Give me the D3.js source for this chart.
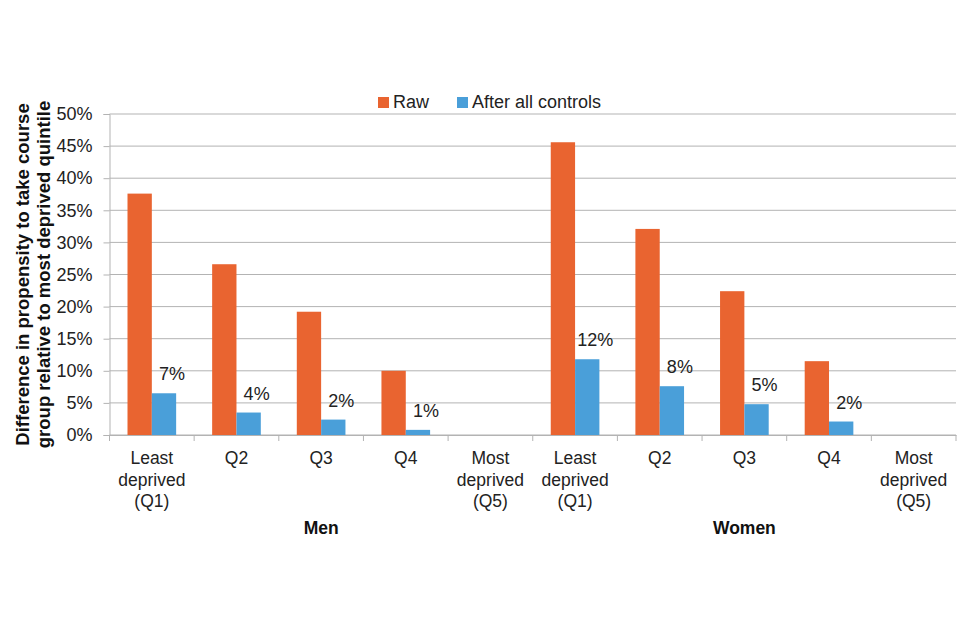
<!DOCTYPE html>
<html>
<head>
<meta charset="utf-8">
<script src="https://cdn.jsdelivr.net/npm/d3@7"></script>
<style>
  body { margin: 0; background: #fff; }
  svg { font-family: "Liberation Sans", Arial, sans-serif; }
</style>
</head>
<body>
<div id="chart"></div>
<script>
// categories and values
var groups = ["Men", "Women"];
var quintiles = [["Least", "deprived", "(Q1)"], ["Q2"], ["Q3"], ["Q4"], ["Most", "deprived", "(Q5)"]];
var seriesNames = ["Raw", "After all controls"];
var rawMen = [37.6, 26.6, 19.2, 10.0, 0];
var ctrlMen = [6.5, 3.5, 2.4, 0.8, 0];
var rawWomen = [45.6, 32.1, 22.4, 11.5, 0];
var ctrlWomen = [11.8, 7.6, 4.8, 2.1, 0];
var ctrlLabels = ["7%", "4%", "2%", "1%", "", "12%", "8%", "5%", "2%", ""];
var yTicks = [0, 5, 10, 15, 20, 25, 30, 35, 40, 45, 50];
var colors = ["#e96430", "#4a9fd9"];

var width = 960, height = 640;
var margin = { top: 114, right: 4, bottom: 205, left: 109.5 };
var innerW = width - margin.left - margin.right;
var innerH = height - margin.top - margin.bottom;

var svg = d3.select('#chart').append('svg')
  .attr('width', width)
  .attr('height', height);

// one row per category
var rows = [];
groups.forEach(function(g, gi) {
  var raw = gi == 0 ? rawMen : rawWomen;
  var ctrl = gi == 0 ? ctrlMen : ctrlWomen;
  quintiles.forEach(function(q, qi) {
    rows.push({ key: g + qi, group: g, lines: q, vals: [raw[qi], ctrl[qi]], label: ctrlLabels[gi * 5 + qi] });
  });
});

var x = d3.scaleBand().domain(rows.map(d => d.key)).range([0, innerW]).padding(0);
var xs = d3.scaleBand().domain([0, 1]).range([0, x.bandwidth()]).paddingInner(0).paddingOuter(0.74);
var y = d3.scaleLinear().domain([0, 50]).range([innerH, 0]);

var g = svg.append('g').attr('transform', `translate(${margin.left},${margin.top})`);

// gridlines
g.append('g')
  .selectAll('line')
  .data(yTicks)
  .enter().append('line')
  .attr('x1', 0).attr('x2', innerW)
  .attr('y1', d => y(d)).attr('y2', d => y(d))
  .attr('stroke', '#b3b3b3').attr('stroke-width', 1);

// y axis
var yAxis = g.append('g')
  .call(d3.axisLeft(y).tickValues(yTicks).tickFormat(d => d + '%').tickSize(6).tickPadding(11));
yAxis.select('.domain').attr('stroke', '#b3b3b3');
yAxis.selectAll('.tick line').attr('stroke', '#b3b3b3');
yAxis.selectAll('text').style('font-size', '18px').attr('fill', '#222');

// x axis
var xAxis = g.append('g').attr('transform', `translate(0,${innerH})`)
  .call(d3.axisBottom(x).tickValues([]).tickSizeOuter(0));
xAxis.select('.domain').attr('stroke', '#b3b3b3');
var bounds = d3.range(rows.length + 1).map(i => i * x.step());
xAxis.selectAll('.bound')
  .data(bounds)
  .enter().append('line')
  .attr('class', 'bound')
  .attr('x1', d => d).attr('x2', d => d)
  .attr('y1', 0).attr('y2', 6)
  .attr('stroke', '#b3b3b3');

// bars
var cat = g.selectAll('.cat')
  .data(rows)
  .enter().append('g')
  .attr('class', 'cat')
  .attr('transform', d => `translate(${x(d.key)},0)`);

cat.selectAll('rect')
  .data(d => d.vals.map((v, i) => ({ v: v, i: i })))
  .enter().append('rect')
  .attr('x', d => xs(d.i))
  .attr('width', xs.bandwidth())
  .attr('y', d => y(d.v))
  .attr('height', d => innerH - y(d.v))
  .attr('fill', d => colors[d.i]);

// data labels above the blue bars
cat.append('text')
  .attr('x', xs(1) + xs.bandwidth() / 2 + 8)
  .attr('y', d => y(d.vals[1]) - 13)
  .attr('text-anchor', 'middle')
  .style('font-size', '18px')
  .attr('fill', '#222')
  .text(d => d.label);

// category labels
cat.append('text')
  .attr('transform', `translate(${x.bandwidth() / 2},${innerH})`)
  .attr('text-anchor', 'middle')
  .style('font-size', '17.5px')
  .attr('fill', '#222')
  .selectAll('tspan')
  .data(d => d.lines)
  .enter().append('tspan')
  .attr('x', 0)
  .attr('y', (d, i) => 29 + i * 21.5)
  .text(d => d);

// group labels
g.selectAll('.grp')
  .data(groups)
  .enter().append('text')
  .attr('class', 'grp')
  .attr('x', (d, i) => x(d + '2') + x.bandwidth() / 2)
  .attr('y', innerH + 99)
  .attr('text-anchor', 'middle')
  .style('font-size', '17.5px')
  .style('font-weight', 'bold')
  .attr('fill', '#111')
  .text(d => d);

// y title
svg.append('text')
  .attr('transform', `translate(0,${margin.top + innerH / 2}) rotate(-90)`)
  .attr('text-anchor', 'middle')
  .style('font-size', '18.5px')
  .style('font-weight', 'bold')
  .attr('fill', '#111')
  .selectAll('tspan')
  .data(["Difference in propensity to take course", "group relative to most deprived quintile"])
  .enter().append('tspan')
  .attr('x', 0)
  .attr('y', (d, i) => 29 + i * 21)
  .text(d => d);

// legend
var legX = [378, 457];
var leg = svg.selectAll('.leg')
  .data(seriesNames)
  .enter().append('g')
  .attr('class', 'leg')
  .attr('transform', (d, i) => `translate(${legX[i]},97)`);
leg.append('rect').attr('width', 11).attr('height', 11).attr('fill', (d, i) => colors[i]);
leg.append('text')
  .attr('x', 15).attr('y', 11)
  .style('font-size', '18px')
  .attr('fill', '#222')
  .text(d => d);
</script>
</body>
</html>
